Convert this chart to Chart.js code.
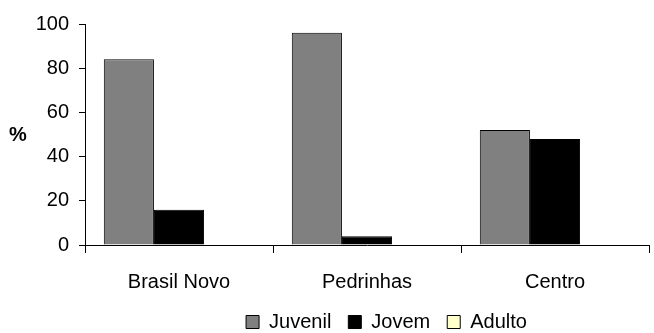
<!DOCTYPE html>
<html>
<head>
<meta charset="utf-8">
<title>Juvenil / Jovem / Adulto</title>
<script src="https://cdn.jsdelivr.net/npm/chart.js@4.4.1/dist/chart.umd.min.js"></script>
<style>
    body { margin: 0; background: #fff; }
    #wrap { width: 654px; height: 333px; position: relative; }
</style>
</head>
<body>
<div id="wrap"><canvas id="myChart"></canvas></div>
<script>
// data
const locais = ['Brasil Novo', 'Pedrinhas', 'Centro'];
const juvenil = [84, 96, 52];
const jovem = [16, 4, 48];
const adulto = [0, 0, 0];
const yTicks = [0, 20, 40, 60, 80, 100];

Chart.defaults.font.family = "'Liberation Sans', Arial, sans-serif";
Chart.defaults.font.size = 20;
Chart.defaults.color = '#000';

// the "%" label sits flat to the left of the axis, so draw it by hand
const percentLabel = {
    id: 'percentLabel',
    afterDraw(chart) {
        const ctx = chart.ctx;
        const area = chart.chartArea;
        ctx.save();
        ctx.font = "bold 20px 'Liberation Sans', Arial, sans-serif";
        ctx.fillStyle = '#000';
        ctx.textAlign = 'center';
        ctx.textBaseline = 'middle';
        ctx.fillText('%', 18, (area.top + area.bottom) / 2 + 1);
        ctx.restore();
    }
};

// move the legend to where it is in the original (right of centre, near the bottom)
const legendPlace = {
    id: 'legendPlace',
    afterLayout(chart) {
        const lg = chart.legend;
        const dx = 62;
        const top = 322 - lg.options.labels.padding - 10;
        lg.left += dx;
        lg.right += dx;
        lg.top = top;
        lg.bottom = chart.height;
        lg.height = lg.bottom - top;
    }
};

const myChart = document.getElementById('myChart');

let barChart = new Chart(myChart, {
    type: 'bar',
    data: {
        labels: locais,
        datasets: [{
            label: 'Juvenil',
            data: juvenil,
            backgroundColor: '#808080',
            borderColor: '#000',
            borderWidth: 1
        }, {
            label: 'Jovem',
            data: jovem,
            backgroundColor: '#000',
            borderColor: '#000',
            borderWidth: 1
        }, {
            label: 'Adulto',
            data: adulto,
            backgroundColor: '#ffffcc',
            borderColor: '#000',
            borderWidth: 1
        }]
    },
    options: {
        responsive: true,
        maintainAspectRatio: false,
        animation: false,
        categoryPercentage: 0.8,
        barPercentage: 1.0,
        layout: {
            padding: { top: 24, right: 5, left: 0, bottom: 0 }
        },
        plugins: {
            tooltip: { enabled: false },
            legend: {
                position: 'bottom',
                maxHeight: 33,
                labels: {
                    boxWidth: 13,
                    boxHeight: 13,
                    padding: 17,
                    font: { size: 20 }
                }
            }
        },
        scales: {
            x: {
                grid: {
                    offset: true,
                    drawOnChartArea: false,
                    drawTicks: true,
                    tickLength: 8,
                    color: '#000'
                },
                border: { display: true, color: '#000', width: 1 },
                ticks: { padding: 17, maxRotation: 0 },
                afterFit(scale) {
                    scale.height = 55;
                }
            },
            y: {
                min: 0,
                max: 100,
                afterBuildTicks(scale) {
                    scale.ticks = yTicks.map(v => ({ value: v }));
                },
                grid: {
                    drawOnChartArea: false,
                    drawTicks: true,
                    tickLength: 6,
                    color: '#000'
                },
                border: { display: true, color: '#000', width: 1 },
                ticks: { padding: 10 },
                afterFit(scale) {
                    scale.width = 85;
                }
            }
        }
    },
    plugins: [percentLabel, legendPlace]
});
</script>
</body>
</html>
